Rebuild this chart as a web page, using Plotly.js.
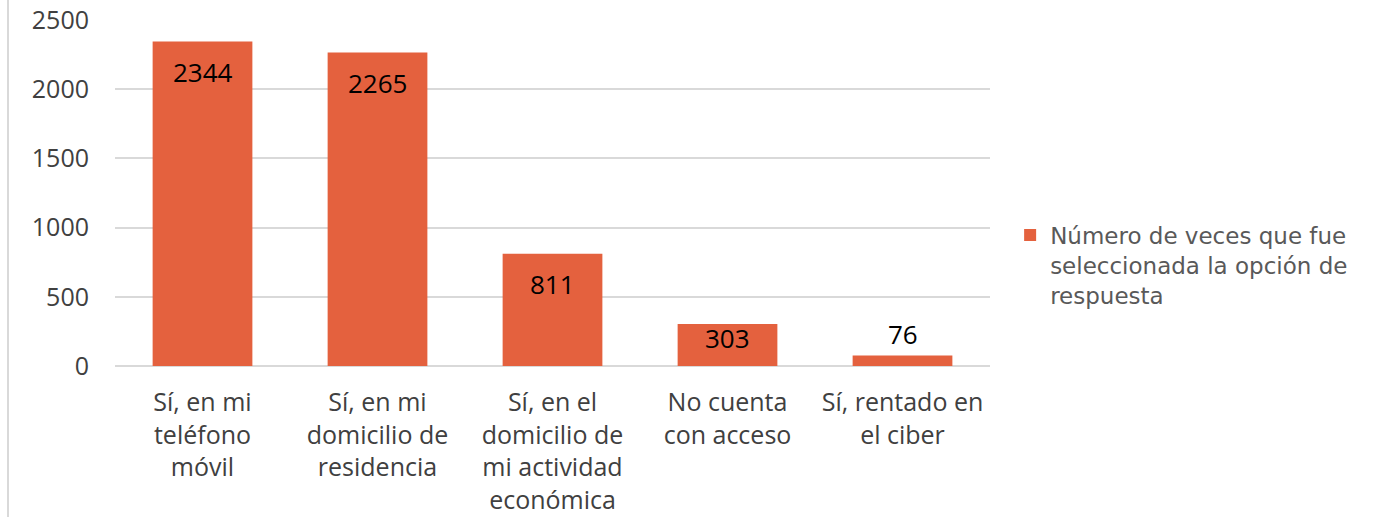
<!DOCTYPE html>
<html><head><meta charset="utf-8">
<script src="https://cdn.plot.ly/plotly-3.0.1.min.js"></script>
<style>html,body{margin:0;padding:0;background:#fff}#c{width:1384px;height:517px}</style>
</head><body><div id="c"></div>
<script>
const categories = ["Sí, en mi<br>teléfono<br>móvil", "Sí, en mi<br>domicilio de<br>residencia", "Sí, en el<br>domicilio de<br>mi actividad<br>económica", "No cuenta<br>con acceso", "Sí, rentado en<br>el ciber"];
const values = [2344, 2265, 811, 303, 76];
const seriesName = "Número de veces que fue<br>seleccionada la opción de<br>respuesta";
const tickVals = [0, 500, 1000, 1500, 2000, 2500];

const barColor = "#E4613E";
const plotH = 346, yMax = 2500;
const annotations = values.map((v, i) => {
  const h = v * plotH / yMax;
  const inside = h > 25;
  return {x: categories[i], y: v, text: String(v), showarrow: false,
    yanchor: inside ? "middle" : "bottom", yshift: inside ? -Math.min(30, h / 3) : 1,
    font: {family: "'Open Sans', sans-serif", size: 26, color: "#000"}};
});

const trace = {type: "bar", x: categories, y: values, name: seriesName,
  marker: {color: barColor}, width: 0.57, showlegend: true};

const layout = {
  width: 1384, height: 517,
  margin: {l: 115, r: 394, t: 20, b: 151},
  paper_bgcolor: "#fff", plot_bgcolor: "#fff",
  font: {family: "'Open Sans', sans-serif", size: 25, color: "#404040"},
  xaxis: {type: "category", showgrid: false, zeroline: false, showline: false, ticks: "", ticklabelstandoff: 19, tickfont: {size: 25, color: "#404040"}, tickangle: 0},
  yaxis: {range: [0, yMax], tickvals: tickVals, showgrid: true, gridcolor: "#d9d9d9", gridwidth: 1.5, zeroline: true, zerolinecolor: "#d9d9d9", zerolinewidth: 2, showline: false, ticks: "", ticklabelstandoff: 25, tickfont: {size: 25, color: "#404040"}},
  showlegend: true,
  legend: {x: 1.023, y: 0.292, xanchor: "left", yanchor: "middle", valign: "top", font: {family: "'DejaVu Sans', sans-serif", size: 23, color: "#595959"}},
  annotations: annotations,
  shapes: [{type: "line", xref: "paper", yref: "paper", x0: -0.1223, x1: -0.1223, y0: -0.45, y1: 1.06, line: {color: "#d9d9d9", width: 2}}]
};
Plotly.newPlot("c", [trace], layout, {displayModeBar: false});
</script></body></html>
